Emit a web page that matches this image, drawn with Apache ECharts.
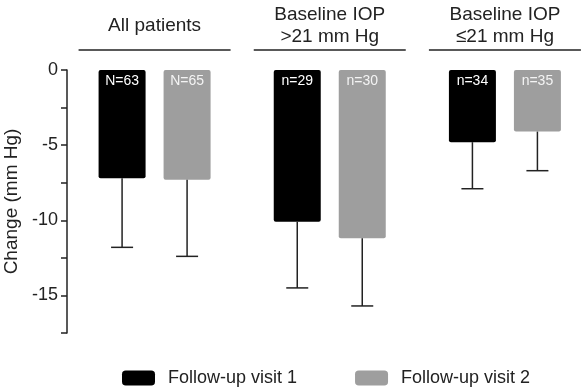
<!DOCTYPE html>
<html>
<head>
<meta charset="utf-8">
<script src="https://cdn.jsdelivr.net/npm/echarts@6/dist/echarts.min.js"></script>
<style>
  html, body { margin: 0; padding: 0; background: #fff; }
  #chart { width: 582px; height: 392px; }
</style>
</head>
<body>
<div id="chart"></div>
<script>
const groups = ['All patients', 'Baseline IOP\n>21 mm Hg', 'Baseline IOP\n\u226421 mm Hg'];
const visit1Mean = [-7.2, -10.1, -4.8];
const visit1Sd = [4.6, 4.4, 3.1];
const visit1N = ['N=63', 'n=29', 'n=34'];
const visit2Mean = [-7.3, -11.2, -4.1];
const visit2Sd = [5.1, 4.5, 2.6];
const visit2N = ['N=65', 'n=30', 'n=35'];

const font = '"Liberation Sans", Arial, sans-serif';
const ink = '#222';
const barW = 47;
const gap = 18;

function errorSeries(mean, sd, offset) {
  return {
    type: 'custom',
    silent: true,
    z: 5,
    data: mean.map((m, i) => [i, m, m - sd[i]]),
    renderItem: function (params, api) {
      const top = api.coord([api.value(0), api.value(1)]);
      const bot = api.coord([api.value(0), api.value(2)]);
      const cx = top[0] + offset;
      const st = { stroke: ink, lineWidth: 1.5 };
      return {
        type: 'group',
        children: [
          { type: 'line', shape: { x1: cx, y1: top[1], x2: cx, y2: bot[1] }, style: st },
          { type: 'line', shape: { x1: cx - 11, y1: bot[1], x2: cx + 11, y2: bot[1] }, style: st }
        ]
      };
    }
  };
}

const chart = echarts.init(document.getElementById('chart'));
const option = {
  animation: false,
  textStyle: { fontFamily: font },
  grid: { left: 67, right: -10.5, top: 70, bottom: 59, outerBoundsMode: 'none' },
  legend: {
    data: ['Follow-up visit 1', 'Follow-up visit 2'],
    left: 122,
    top: 369,
    padding: 0,
    icon: 'roundRect',
    itemWidth: 33,
    itemHeight: 15,
    itemGap: 58,
    textStyle: { fontSize: 18, color: ink, padding: [0, 0, 0, 8] }
  },
  xAxis: [{
    type: 'category',
    data: groups,
    axisLine: { show: false },
    axisTick: { show: false },
    axisLabel: { show: false }
  }, {
    type: 'category',
    position: 'top',
    data: groups,
    axisLine: { show: false },
    axisTick: { show: false },
    axisLabel: {
      interval: 0,
      fontSize: 19,
      color: ink,
      lineHeight: 22,
      verticalAlign: 'middle',
      margin: 44
    }
  }],
  yAxis: {
    type: 'value',
    min: -17.5,
    max: 0,
    interval: 2.5,
    name: 'Change (mm Hg)',
    nameLocation: 'middle',
    nameGap: 42,
    nameTextStyle: { fontSize: 19, color: ink },
    splitLine: { show: false },
    axisLine: { show: true, lineStyle: { color: ink, width: 1.5 } },
    axisTick: { show: true, length: 6, lineStyle: { color: ink, width: 1.5 } },
    axisLabel: {
      fontSize: 18,
      color: ink,
      margin: 9,
      formatter: v => (v % 5 === 0 ? String(v) : '')
    }
  },
  series: [{
    name: 'Follow-up visit 1',
    type: 'bar',
    data: visit1Mean,
    barWidth: barW,
    barGap: (gap / barW * 100).toFixed(1) + '%',
    itemStyle: { color: '#000', borderRadius: 2 },
    label: {
      show: true,
      position: 'insideTop',
      distance: 4,
      fontSize: 14,
      color: '#fff',
      formatter: p => visit1N[p.dataIndex]
    }
  }, {
    name: 'Follow-up visit 2',
    type: 'bar',
    data: visit2Mean,
    barWidth: barW,
    itemStyle: { color: '#9e9e9e', borderRadius: 2 },
    label: {
      show: true,
      position: 'insideTop',
      distance: 4,
      fontSize: 14,
      color: '#f4f4f4',
      formatter: p => visit2N[p.dataIndex]
    }
  },
  errorSeries(visit1Mean, visit1Sd, -(barW + gap) / 2),
  errorSeries(visit2Mean, visit2Sd, (barW + gap) / 2)
  ]
};
chart.setOption(option);

// rules under the group headers
const rules = groups.map((g, i) => {
  const cx = chart.convertToPixel({ xAxisIndex: 0 }, i);
  return {
    type: 'line',
    shape: { x1: cx - 76, y1: 50, x2: cx + 76, y2: 50 },
    style: { stroke: ink, lineWidth: 1.5 }
  };
});
chart.setOption({ graphic: rules });
</script>
</body>
</html>
